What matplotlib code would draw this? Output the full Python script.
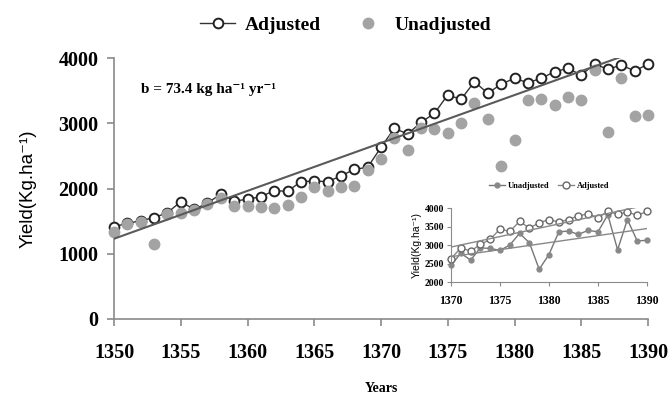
import numpy as np
import matplotlib
matplotlib.use("Agg")
import matplotlib.pyplot as plt

# values
years = list(range(1350, 1391))
adjusted = [1415, 1465, 1507, 1553, 1629, 1798, 1680, 1775, 1916, 1808,
            1834, 1875, 1967, 1957, 2105, 2115, 2105, 2192, 2294, 2325,
            2631, 2922, 2835, 3014, 3152, 3433, 3367, 3637, 3459, 3600,
            3688, 3622, 3688, 3790, 3842, 3739, 3908, 3827, 3893, 3800, 3908]
unadjusted = [1340, 1450, 1480, 1150, 1610, 1630, 1670, 1770, 1850, 1732,
              1732, 1711, 1696, 1747, 1865, 2028, 1967, 2028, 2038, 2284,
              2447, 2780, 2590, 2922, 2907, 2855, 2999, 3315, 3060, 2345,
              2743, 3356, 3377, 3285, 3397, 3356, 3816, 2871, 3688, 3111, 3126]
trend_slope = 73.4      # kg/ha/yr, from the label
trend_start = 1230      # value of trend at 1350
trend_years = [1350, 1388]
inset_from = 1370

serif = ["Liberation Serif", "DejaVu Serif"]
sans = ["Liberation Sans", "DejaVu Sans"]
gray = "#a3a3a3"
axcol = "#8a8a8a"

fig = plt.figure(figsize=(6.72, 4.01), dpi=100)
ax = fig.add_axes([114 / 672, 1 - 319 / 401, 534 / 672, 261 / 401])

ax.plot(years, adjusted, color="#333333", lw=1.0, marker="o", ms=7,
        mfc="white", mec="#222222", mew=1.4, zorder=3, clip_on=False,
        label="Adjusted")
ax.plot(years, unadjusted, ls="none", marker="o", ms=7.5, color=gray,
        mec=gray, zorder=4, clip_on=False, label="Unadjusted")
tx = np.array(trend_years)
ax.plot(tx, trend_start + trend_slope * (tx - 1350), color="#5a5a5a",
        lw=1.5, zorder=5)

ax.set_xlim(1350, 1390)
ax.set_ylim(0, 4000)
ax.set_xticks(range(1350, 1391, 5))
ax.set_yticks(range(0, 4001, 1000))
for s in ["top", "right"]:
    ax.spines[s].set_visible(False)
for s in ["left", "bottom"]:
    ax.spines[s].set_color(axcol)
    ax.spines[s].set_linewidth(1.2)
ax.tick_params(direction="out", length=5, width=1.2, color=axcol, pad=6)
for lab in ax.get_xticklabels() + ax.get_yticklabels():
    lab.set_family(serif)
    lab.set_fontweight("bold")
    lab.set_fontsize(14.5)
ax.tick_params(axis="x", pad=12)

ax.set_xlabel("Years", family=serif, fontweight="bold", fontsize=10,
              labelpad=14)
ax.set_ylabel("Yield(Kg.ha\u207b\u00b9)", family=sans, fontsize=13.5,
              labelpad=16)
ax.text(1352, 3460, "b = 73.4 kg ha\u207b\u00b9 yr\u207b\u00b9", family=serif,
        fontweight="bold", fontsize=11)

fig.legend(loc="center", bbox_to_anchor=(346 / 672, 1 - 25 / 401), ncol=2,
           frameon=False, prop={"family": serif, "weight": "bold", "size": 14},
           handlelength=1.8, columnspacing=1.5, handletextpad=0.5)

# inset: last 21 years
i0 = years.index(inset_from)
iy = np.array(years[i0:])
ia = np.array(adjusted[i0:])
iu = np.array(unadjusted[i0:])
ins = fig.add_axes([451 / 672, 1 - 282 / 401, 196 / 672, 74 / 401])
ins.patch.set_alpha(0)
ins.plot(iy, iu, color="#777777", lw=1.0, marker="o", ms=3.5,
         mfc="#888888", mec="#888888", label="Unadjusted", clip_on=False)
ins.plot(iy, ia, color="#888888", lw=1.0, marker="o", ms=5, mfc="white",
         mec="#666666", label="Adjusted", clip_on=False)
pu = np.polyfit(iy, iu, 1)
pa = np.polyfit(iy, ia, 1)
ins.plot([1370, 1390], np.polyval(pu, [1370, 1390]), color="#888888", lw=1.0)
ins.plot([1370, 1389], np.polyval(pa, [1370, 1389]), color="#888888", lw=1.0)
ins.set_xlim(1370, 1390)
ins.set_ylim(2000, 4000)
ins.set_xticks(range(1370, 1391, 5))
ins.set_yticks(range(2000, 4001, 500))
for s in ["top", "right"]:
    ins.spines[s].set_visible(False)
for s in ["left", "bottom"]:
    ins.spines[s].set_color(axcol)
ins.tick_params(direction="out", length=3, color=axcol, pad=2)
for lab in ins.get_xticklabels():
    lab.set_family(serif)
    lab.set_fontweight("bold")
    lab.set_fontsize(8.5)
for lab in ins.get_yticklabels():
    lab.set_family(serif)
    lab.set_fontweight("bold")
    lab.set_fontsize(7)
ins.tick_params(axis="x", pad=6)
ins.set_ylabel("Yield(Kg.ha\u207b\u00b9)", family=sans, fontsize=7.5,
               labelpad=2)
ins.legend(loc="center", bbox_to_anchor=(0.5, 1.3), ncol=2, frameon=False,
           prop={"family": serif, "weight": "bold", "size": 6},
           handlelength=2, columnspacing=1, handletextpad=0.3)

fig.savefig("out.png", dpi=100)
